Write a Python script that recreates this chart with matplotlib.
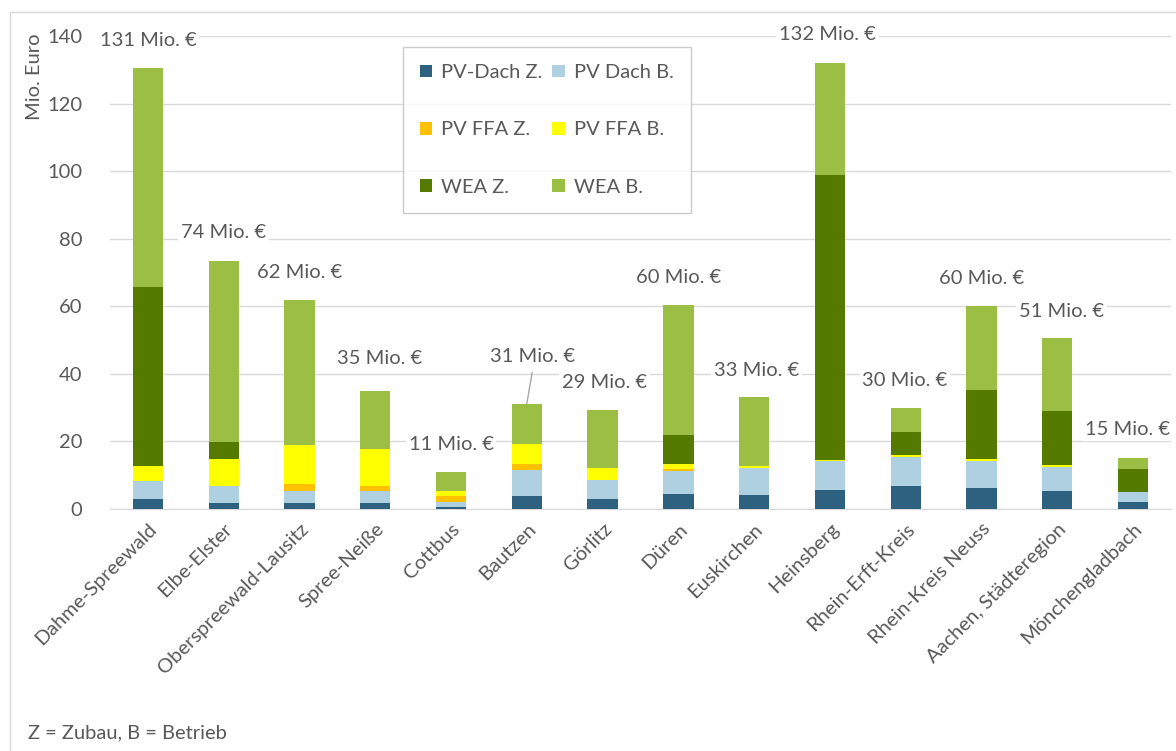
import matplotlib
matplotlib.use('Agg')
import matplotlib.pyplot as plt
import numpy as np
from matplotlib.patches import Rectangle

# ---- Daten ----
regionen = ['Dahme-Spreewald', 'Elbe-Elster', 'Oberspreewald-Lausitz', 'Spree-Neiße',
            'Cottbus', 'Bautzen', 'Görlitz', 'Düren', 'Euskirchen', 'Heinsberg',
            'Rhein-Erft-Kreis', 'Rhein-Kreis Neuss', 'Aachen, Städteregion', 'Mönchengladbach']

pv_dach_z = [3.0, 1.7, 1.7, 1.7, 0.7, 3.7, 2.9, 4.4, 4.2, 5.6, 6.9, 6.3, 5.4, 2.2]
pv_dach_b = [5.3, 5.1, 3.5, 3.5, 1.5, 7.9, 5.7, 6.9, 8.0, 8.7, 8.6, 8.0, 6.9, 2.8]
pv_ffa_z = [0.0, 0.0, 2.3, 1.5, 1.5, 1.8, 0.0, 0.6, 0.0, 0.0, 0.0, 0.0, 0.0, 0.0]
pv_ffa_b = [4.4, 8.0, 11.5, 11.2, 1.7, 5.9, 3.6, 1.4, 0.6, 0.1, 0.4, 0.5, 0.6, 0.0]
wea_z = [53.1, 4.9, 0.0, 0.0, 0.0, 0.0, 0.0, 8.7, 0.0, 84.6, 6.8, 20.5, 16.2, 6.9]
wea_b = [64.7, 53.8, 42.8, 16.9, 5.5, 11.9, 17.0, 38.4, 20.4, 33.0, 7.1, 24.8, 21.5, 3.3]

summen_label = ['131 Mio. €', '74 Mio. €', '62 Mio. €', '35 Mio. €', '11 Mio. €',
                '31 Mio. €', '29 Mio. €', '60 Mio. €', '33 Mio. €', '132 Mio. €',
                '30 Mio. €', '60 Mio. €', '51 Mio. €', '15 Mio. €']

serien = [
    ('PV-Dach Z.', pv_dach_z, '#2E6180'),
    ('PV Dach B.', pv_dach_b, '#AED0E0'),
    ('PV FFA Z.', pv_ffa_z, '#FFC000'),
    ('PV FFA B.', pv_ffa_b, '#FFFF00'),
    ('WEA Z.', wea_z, '#557A00'),
    ('WEA B.', wea_b, '#9BBF45'),
]

# Position der Beschriftungen (Datenkoordinaten)
label_x = [0.0, 1.0, 2.0, 3.06, 4.0, 5.07, 6.03, 7.0, 8.03, 8.97, 9.99, 11.0, 12.06, 12.93]
label_y = [138.8, 81.7, 70.1, 44.4, 19.2, 45.0, 37.3, 68.4, 41.1, 140.3, 37.9, 68.1, 58.6, 23.4]

TEXT = '#595959'
FS = 14.5
plt.rcParams['font.family'] = ['Lato', 'DejaVu Sans']

fig = plt.figure(figsize=(11.76, 7.51), dpi=100)
ax = fig.add_axes([110 / 1176, 242 / 751, 1061 / 1176, 473 / 751])

x = np.arange(len(regionen))
unten = np.zeros(len(regionen))
handles = []
for name, werte, farbe in serien:
    b = ax.bar(x, werte, width=0.4, bottom=unten, color=farbe, label=name, zorder=3)
    handles.append(b)
    unten += np.array(werte)

for i, txt in enumerate(summen_label):
    ax.text(label_x[i], label_y[i], txt, ha='center', va='center', fontsize=FS, color=TEXT,
            bbox=dict(facecolor='white', edgecolor='none', pad=2), zorder=4, clip_on=False)

# Führungslinie Bautzen
ax.plot([5.07, 5.0], [40.3, unten[5]], color='#A6A6A6', lw=1, zorder=4)

ax.set_xlim(-0.5, 13.5)
ax.set_ylim(0, 140)
ax.set_yticks(range(0, 141, 20))
ax.grid(axis='y', color='#D9D9D9', lw=1, zorder=0)
ax.set_axisbelow(True)
for s in ['top', 'right', 'left']:
    ax.spines[s].set_visible(False)
ax.spines['bottom'].set_color('#D9D9D9')
ax.tick_params(axis='both', length=0, labelsize=FS, colors=TEXT)
ax.tick_params(axis='y', pad=20)
ax.set_xticks(x)
ax.set_xticklabels(regionen, rotation=45, ha='right', rotation_mode='anchor')
ax.tick_params(axis='x', pad=8)

# Legende zeilenweise
reihenfolge = [0, 2, 4, 1, 3, 5]
leg = ax.legend([handles[i] for i in reihenfolge], [serien[i][0] for i in reihenfolge],
                loc='upper left', bbox_to_anchor=(0.276, 0.977), borderaxespad=0,
                ncol=2, fontsize=FS, frameon=True, fancybox=False, edgecolor='#BFBFBF',
                labelspacing=2.0, handlelength=0.6, handleheight=0.6, columnspacing=0.5,
                borderpad=0.85, handletextpad=0.45)
leg.get_frame().set_linewidth(1)
for t in leg.get_texts():
    t.set_color(TEXT)

fig.text(35 / 1176, 1 - 33 / 751, 'Mio. Euro', rotation=90, ha='center', va='top',
         fontsize=FS, color=TEXT)
fig.text(28 / 1176, 1 - 733 / 751, 'Z = Zubau, B = Betrieb', ha='left', va='center',
         fontsize=FS, color=TEXT)

fig.patches.append(Rectangle((10 / 1176, -0.1), 1.2, 1 - 12 / 751 + 0.1, transform=fig.transFigure,
                             fill=False, edgecolor='#D9D9D9', lw=1))

fig.savefig('out.png', dpi=100)
